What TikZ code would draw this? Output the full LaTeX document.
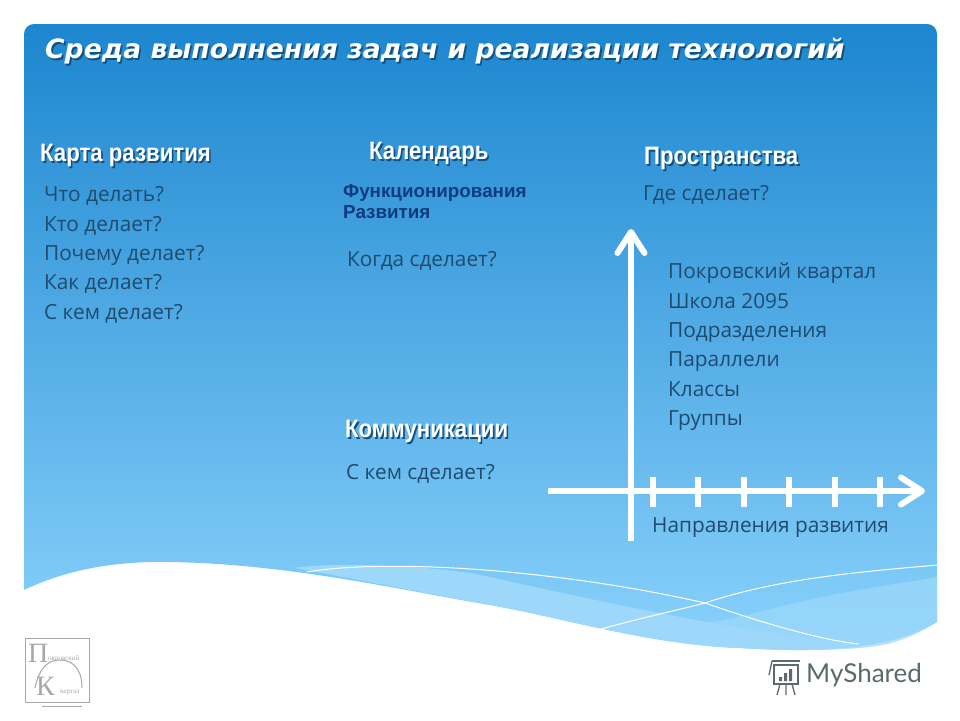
\documentclass[tikz,border=0pt]{standalone}
\usepackage{fontspec}
\setmainfont{Open Sans}
\newfontfamily\titlefont{DejaVu Sans}
\newfontfamily\headfont[FakeStretch=0.88]{Liberation Sans}
\newfontfamily\subfont{Liberation Sans}
\newfontfamily\logofont{Liberation Serif}
\newfontfamily\markfont{Lato}
\usetikzlibrary{arrows.meta, positioning}
\definecolor{skytop}{HTML}{1C86CF}
\definecolor{skymid}{HTML}{4AA6E6}
\definecolor{skylow}{HTML}{8AD2FC}
\definecolor{bandlight}{HTML}{9DD8FB}
\definecolor{inkblue}{HTML}{1F4B6E}
\definecolor{subblue}{HTML}{0F3A80}
\definecolor{shadeblue}{HTML}{14507F}
\definecolor{logogray}{HTML}{A8A8A8}
\definecolor{markgray}{HTML}{5B6B6B}
\newcommand{\shadowtxt}[1]{\rlap{\kern1.6pt\raisebox{-1.6pt}{\color{shadeblue}#1}}#1}
\begin{document}
\begin{tikzpicture}[
  x=1pt, y=-1pt,
  txt/.style={anchor=north west, inner sep=0pt, align=left, text=inkblue, font=\fontsize{20.8}{29.3}\selectfont},
  head/.style={anchor=north west, inner sep=0pt, text=white, font=\headfont\bfseries\fontsize{25.2}{28}\selectfont},
  axis/.style={white, line width=6pt, -{Straight Barb[length=21pt, width=27pt, line width=6pt, round]}},
  tick/.style={white, line width=6pt},
  wire/.style={white, line width=1pt},
  logoline/.style={logogray, line width=1pt},
  markline/.style={markgray, line width=1.3pt},
]
  \useasboundingbox (0,0) rectangle (960,720);
  \fill[white] (0,0) rectangle (960,720);

  % panel
  \shade[top color=skytop, middle color=skymid, bottom color=skylow, shading angle=0]
    (24,34) arc[start angle=180, end angle=90, x radius=10, y radius=-10] -- (927,24)
    arc[start angle=90, end angle=0, x radius=10, y radius=-10] -- (937,622)
    .. controls (890,650) and (820,653) .. (740,648)
    .. controls (650,645) and (560,617) .. (490,605)
    .. controls (400,590) and (290,564) .. (170,562)
    .. controls (120,561) and (70,568) .. (24,590) -- cycle;

  % bands above the wave
  \fill[bandlight] (294,568) .. controls (330,562) and (440,565) .. (490,577)
    .. controls (570,595) and (650,612) .. (724,625)
    .. controls (780,635) and (820,640) .. (859,644)
    .. controls (820,653) and (780,650) .. (740,648)
    .. controls (650,645) and (560,617) .. (490,605)
    .. controls (420,592) and (350,578) .. (294,568) -- cycle;
  \fill[bandlight, opacity=.75] (650,635) .. controls (690,625) and (730,620) .. (767,610)
    .. controls (830,593) and (890,585) .. (937,577) -- (937,622)
    .. controls (900,645) and (880,648) .. (822,650)
    .. controls (760,650) and (700,645) .. (650,635) -- cycle;
  \draw[wire] (307,572) .. controls (390,558) and (560,570) .. (705,603)
    .. controls (760,622) and (820,640) .. (859,644);
  \draw[wire] (594,631) .. controls (640,618) and (670,612) .. (705,603)
    .. controls (780,578) and (860,572) .. (937,565);

  % title
  \node[anchor=north west, inner sep=0pt, text=white] (title) at (45,38)
    {\titlefont\bfseries\itshape\fontsize{26.6}{30}\selectfont\shadowtxt{Среда выполнения задач и реализации технологий}};

  % columns
  \node[head] (map) at (40,144) {\shadowtxt{Карта развития}};
  \node[txt, below=18pt of map.south west, anchor=north west, xshift=4pt] (mapq)
    {Что делать?\\Кто делает?\\Почему делает?\\Как делает?\\С кем делает?};

  \node[head] (cal) at (369,142) {\shadowtxt{Календарь}};
  \node[anchor=north west, inner sep=0pt, align=left, text=subblue,
        font=\subfont\bfseries\fontsize{18.8}{21}\selectfont] (calsub) at (343,184)
    {Функционирования\\Развития};
  \node[txt, below=33pt of calsub.south west, anchor=north west, xshift=4pt] (calq) {Когда сделает?};

  \node[head] (comm) at (345,420) {\shadowtxt{Коммуникации}};
  \node[txt, below=20pt of comm.south west, anchor=north west, xshift=1pt] (commq) {С кем сделает?};

  \node[head] (space) at (644,147) {\shadowtxt{Пространства}};
  \node[txt, below=14pt of space.south west, anchor=north west, xshift=-1pt] (spaceq) {Где сделает?};

  \node[txt] (levels) at (668,263)
    {Покровский квартал\\Школа 2095\\Подразделения\\Параллели\\Классы\\Группы};

  % axes
  \coordinate (ybase) at (631,541);
  \coordinate (ytop) at (631,229);
  \coordinate (xbase) at (548,491);
  \coordinate (xtop) at (925,491);
  \draw[axis] (ybase) -- (ytop);
  \draw[axis] (xbase) -- (xtop);
  \foreach \i in {0,...,5} {
    \coordinate (t\i a) at (653+45.4*\i,477);
    \coordinate (t\i b) at (653+45.4*\i,507);
    \draw[tick] (t\i a) -- (t\i b);
  }
  \node[txt] (dirs) at (652,517) {Направления развития};

  % logo
  \draw[logoline] (25,638) rectangle (89,702);
  \node[anchor=west, inner sep=0pt, text=logogray, font=\logofont\fontsize{28}{30}\selectfont] (logop) at (28,653) {П};
  \node[anchor=west, inner sep=0pt, text=logogray, font=\logofont\fontsize{7}{8}\selectfont] (logopr) at (48,659) {окровский};
  \draw[logoline] (35,688) .. controls (40,665) and (50,660) .. (60,660) .. controls (72,660) and (82,668) .. (82,688);
  \node[anchor=west, inner sep=0pt, text=logogray, font=\logofont\fontsize{28}{30}\selectfont] (logok) at (36,686) {К};
  \node[anchor=west, inner sep=0pt, text=logogray, font=\logofont\fontsize{7}{8}\selectfont] (logokv) at (60,693) {вартал};
  \draw[logoline] (42,706) -- (82,706);

  % mark
  \node[anchor=west, inner sep=0pt, text=markgray, font=\markfont\fontsize{26}{28}\selectfont] (mark) at (806,675) {MyShared};
  \draw[markline] (772,661) -- (800,661) (774,665) rectangle (798,684);
  \draw[markline] (772,661) -- (769,675) (780,684) -- (777,695) (792,684) -- (795,695) (786,684) -- (786,695);
  \fill[markgray] (779,677) rectangle (782,681) (784,673) rectangle (787,681) (789,669) rectangle (792,681);
\end{tikzpicture}
\end{document}
